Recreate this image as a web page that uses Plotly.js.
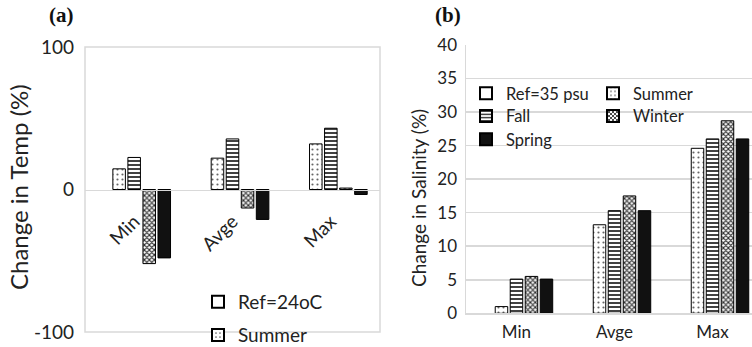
<!DOCTYPE html>
<html><head><meta charset="utf-8">
<script src="https://cdn.plot.ly/plotly-3.0.1.min.js"></script>
<style>html,body{margin:0;padding:0;background:#fff}#chart{width:752px;height:347px}</style>
</head><body><div id="chart"></div>
<script>
// ---- data ----
const categories = ['Min', 'Avge', 'Max'];
const seriesA = ['Ref=24oC', 'Summer', 'Fall', 'Winter', 'Spring'];
const seriesB = ['Ref=35 psu', 'Summer', 'Fall', 'Winter', 'Spring'];
const tempRef = [0, 0, 0];
const tempSummer = [14.5, 22, 32];
const tempFall = [22.5, 35.5, 43];
const tempWinter = [-52, -13, 1];
const tempSpring = [-48, -21, -3.5];
const salRef = [0, 0, 0];
const salSummer = [1.0, 13.2, 24.6];
const salFall = [5.1, 15.3, 26.0];
const salWinter = [5.5, 17.5, 28.7];
const salSpring = [5.1, 15.3, 26.0];
const tempTicks = [-100, 0, 100];
const salTicks = [0, 5, 10, 15, 20, 25, 30, 35, 40];

// ---- styles ----
const W = 752, H = 347;
const FONT = 'Lato, "Open Sans", sans-serif';
const TXT = '#222';
const GRID = '#d9d9d9';
const styles = [
  {color: '#ffffff', pattern: {shape: ''}},
  {color: '#ffffff', pattern: {shape: '.', fgcolor: '#666', bgcolor: '#fff', size: 5, solidity: 0.15}},
  {color: '#ffffff', pattern: {shape: '-', fgcolor: '#111', bgcolor: '#fff', size: 4, solidity: 0.4}},
  {color: '#ffffff', pattern: {shape: 'x', fgcolor: '#222', bgcolor: '#fff', size: 3.5, solidity: 0.5}},
  {color: '#111111', pattern: {shape: ''}}
];

const tempSeries = [tempRef, tempSummer, tempFall, tempWinter, tempSpring];
const salSeries = [salRef, salSummer, salFall, salWinter, salSpring];
// one legend box per visible entry, so each can be placed like the reference
const legendA = ['legend', 'legend2', null, null, null];
const legendB = ['legend3', 'legend4', 'legend5', 'legend6', 'legend7'];

function bar(name, ys, i, xa, ya, leg) {
  return {
    type: 'bar', name: name, x: categories, y: ys, xaxis: xa, yaxis: ya,
    marker: {color: styles[i].color, pattern: styles[i].pattern,
             line: {color: '#000', width: ys.map(v => (v === 0 ? 0 : 1))}},
    showlegend: !!leg, legend: leg || 'legend',
    hoverinfo: 'skip'
  };
}
const traces = [];
tempSeries.forEach((ys, i) => traces.push(bar(seriesA[i], ys, i, 'x', 'y', legendA[i])));
salSeries.forEach((ys, i) => traces.push(bar(seriesB[i], ys, i, 'x2', 'y2', legendB[i])));

// panel geometry (pixels -> paper)
const px = v => v / W, py = v => (H - v) / H;
const domAy = [py(332), py(47)];
const domBy = [py(313.3), py(45)];
const tempRange = [-100, 100];
const zeroPos = domAy[0] + (0 - tempRange[0]) / (tempRange[1] - tempRange[0]) * (domAy[1] - domAy[0]);

function leg(xl, yc, fs) {
  return {x: px(xl), y: py(yc - (fs * 0.65 + 6.5)), xanchor: 'left', yanchor: 'top',
    bgcolor: 'rgba(0,0,0,0)', itemsizing: 'constant', font: {size: fs, color: TXT}};
}

const layout = {
  width: W, height: H, margin: {l: 0, r: 0, t: 0, b: 0, autoexpand: false},
  paper_bgcolor: '#fff', plot_bgcolor: '#fff',
  font: {family: FONT, color: TXT},
  barmode: 'group', bargap: 0.235, bargroupgap: 0.167,
  showlegend: true,
  xaxis: {domain: [px(85), px(380)], range: [-0.5, 2.5], type: 'category', anchor: 'free', position: zeroPos,
    showline: true, linecolor: GRID, linewidth: 1.5, ticks: '', showgrid: false, zeroline: false,
    tickangle: -45, tickfont: {size: 19, color: TXT}, ticklabelstandoff: 12, automargin: false},
  yaxis: {domain: domAy, range: tempRange, tickvals: tempTicks, ticktext: tempTicks.map(String),
    showgrid: false, zeroline: false, automargin: false,
    showline: false, ticks: '', tickfont: {size: 19, color: TXT}, ticklabelstandoff: 10, anchor: 'x'},
  xaxis2: {domain: [px(466), 1], range: [-0.515, 2.403], type: 'category', anchor: 'y2', automargin: false,
    showline: true, linecolor: GRID, linewidth: 1.5, ticks: '', showgrid: false, zeroline: false,
    tickfont: {size: 17, color: TXT}, ticklabelstandoff: 3},
  yaxis2: {domain: domBy, range: [0, 40], tickvals: salTicks, showgrid: true, gridcolor: GRID, gridwidth: 1.5,
    zeroline: false, showline: true, linecolor: GRID, linewidth: 1.5, ticks: '', automargin: false,
    tickfont: {size: 17, color: TXT}, ticklabelstandoff: 4, anchor: 'x2'},
  legend: leg(198, 301.7, 19),
  legend2: leg(198, 335, 19),
  legend3: leg(466, 93.3, 16.5),
  legend4: leg(593, 93.3, 16.5),
  legend5: leg(466, 116, 16.5),
  legend6: leg(593, 116, 16.5),
  legend7: leg(466, 139.3, 16.5),
  shapes: [
    {type: 'rect', xref: 'x domain', yref: 'y domain', x0: 0, x1: 1, y0: 0, y1: 1,
     line: {color: GRID, width: 1.5}, layer: 'below'}
  ],
  annotations: [
    {text: '<b>(a)</b>', xref: 'paper', yref: 'paper', x: px(62), y: py(15), showarrow: false,
     xanchor: 'center', yanchor: 'middle', font: {family: '"Liberation Serif", "DejaVu Serif", serif', size: 21, color: '#111'}},
    {text: '<b>(b)</b>', xref: 'paper', yref: 'paper', x: px(448), y: py(15), showarrow: false,
     xanchor: 'center', yanchor: 'middle', font: {family: '"Liberation Serif", "DejaVu Serif", serif', size: 21, color: '#111'}},
    {text: 'Change in Temp (%)', xref: 'paper', yref: 'paper', x: px(18), y: py(187), textangle: -90,
     showarrow: false, xanchor: 'center', yanchor: 'middle', font: {size: 24, color: TXT}},
    {text: 'Change in Salinity (%)', xref: 'paper', yref: 'paper', x: px(418), y: py(198), textangle: -90,
     showarrow: false, xanchor: 'center', yanchor: 'middle', font: {size: 19, color: TXT}}
  ]
};

Plotly.newPlot('chart', traces, layout, {staticPlot: true, displayModeBar: false});
</script>
</body></html>
